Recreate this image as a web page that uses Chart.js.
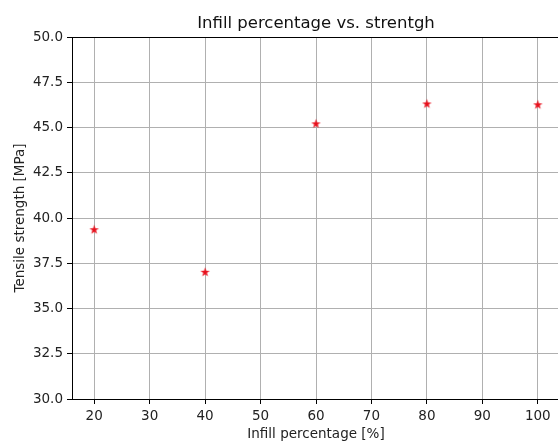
<!DOCTYPE html>
<html>
<head>
<meta charset="utf-8">
<script src="https://cdn.jsdelivr.net/npm/chart.js@4"></script>
<style>
  html, body { margin: 0; padding: 0; background: #fff; overflow: hidden; }
</style>
</head>
<body>
<canvas id="infillChart" width="566" height="442"></canvas>
<script>
// infill percentage [%] and measured tensile strength [MPa]
var infill = [20, 40, 60, 80, 100];
var strength = [39.35, 37.0, 45.2, 46.3, 46.25];

var xTicks = [20, 30, 40, 50, 60, 70, 80, 90, 100];
var yTicks = [30.0, 32.5, 35.0, 37.5, 40.0, 42.5, 45.0, 47.5, 50.0];

// filled star marker (matplotlib '*')
function makeStar(size, outer, color) {
    var c = document.createElement('canvas');
    c.width = size;
    c.height = size;
    var g = c.getContext('2d');
    var inner = outer * 0.382;
    g.beginPath();
    for (var i = 0; i < 10; i++) {
        var r = i % 2 === 0 ? outer : inner;
        var a = -Math.PI / 2 + i * Math.PI / 5;
        var px = size / 2 + r * Math.cos(a);
        var py = size / 2 + r * Math.sin(a);
        if (i === 0) g.moveTo(px, py); else g.lineTo(px, py);
    }
    g.closePath();
    g.fillStyle = color;
    g.fill();
    return c;
}

// black frame around the plot, like matplotlib spines
var frame = {
    id: 'frame',
    afterDatasetsDraw: function (chart) {
        var a = chart.chartArea;
        var ctx = chart.ctx;
        ctx.save();
        ctx.strokeStyle = '#000';
        ctx.lineWidth = 1;
        ctx.strokeRect(Math.round(a.left) + 0.5, Math.round(a.top) + 0.5,
            Math.round(a.right - a.left), Math.round(a.bottom - a.top));
        ctx.restore();
    }
};

Chart.defaults.font.family = "'DejaVu Sans', sans-serif";
Chart.defaults.color = '#222';

var ctx = document.getElementById('infillChart').getContext('2d');
var chart = new Chart(ctx, {
    type: 'scatter',
    data: {
        datasets: [{
            data: infill.map(function (v, i) { return { x: v, y: strength[i] }; }),
            pointStyle: makeStar(13, 5, '#e8101c'),
            pointRadius: 5,
            pointHoverRadius: 5
        }]
    },
    options: {
        responsive: false,
        animation: false,
        layout: { padding: { left: 0, right: 5, top: 0, bottom: 0 } },
        plugins: {
            legend: { display: false },
            tooltip: { enabled: false },
            title: {
                display: true,
                fullSize: false,
                text: 'Infill percentage vs. strentgh',
                color: '#111',
                font: { size: 16.5, weight: 'normal' },
                padding: { top: 14, bottom: 3.2 }
            }
        },
        scales: {
            x: {
                type: 'linear',
                min: 16,
                max: 104,
                afterBuildTicks: function (s) {
                    s.ticks = xTicks.map(function (v) { return { value: v }; });
                },
                afterFit: function (s) { s.height = 43; },
                grid: { color: '#b0b0b0', tickColor: '#000', tickLength: 5, lineWidth: 1 },
                border: { color: '#000', width: 1 },
                ticks: { font: { size: 13.5 }, padding: 4, maxRotation: 0 },
                title: {
                    display: true,
                    text: 'Infill percentage [%]',
                    font: { size: 13.5 },
                    padding: { top: 0, bottom: -1 }
                }
            },
            y: {
                min: 30,
                max: 50,
                afterBuildTicks: function (s) {
                    s.ticks = yTicks.map(function (v) { return { value: v }; });
                },
                afterFit: function (s) { s.width = 72; },
                grid: { color: '#b0b0b0', tickColor: '#000', tickLength: 5, lineWidth: 1 },
                border: { color: '#000', width: 1 },
                ticks: {
                    font: { size: 13.5 },
                    padding: 4,
                    callback: function (v) { return v.toFixed(1); }
                },
                title: {
                    display: true,
                    text: 'Tensile strength [MPa]',
                    font: { size: 13.5 },
                    padding: { top: 12, bottom: 0 }
                }
            }
        }
    },
    plugins: [frame]
});
</script>
</body>
</html>
